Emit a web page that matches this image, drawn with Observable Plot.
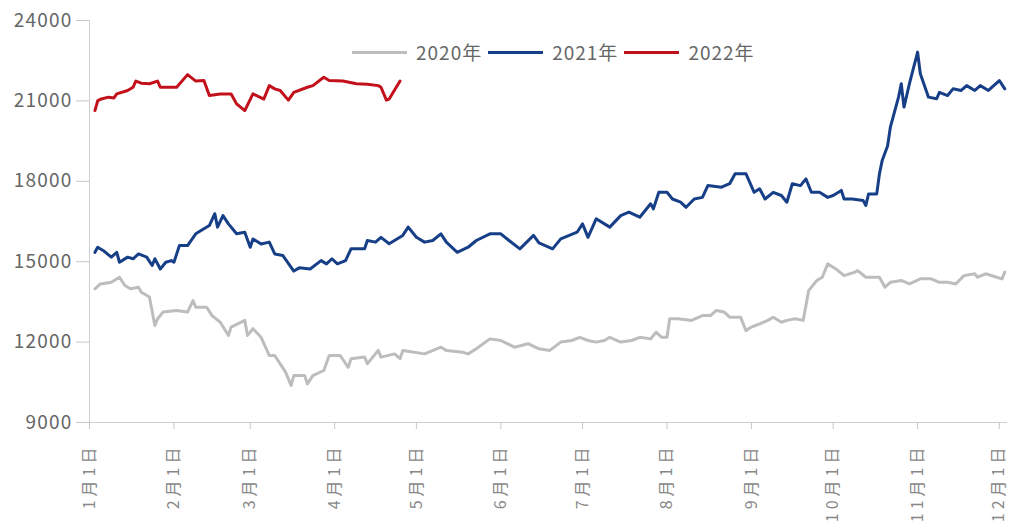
<!DOCTYPE html>
<html><head><meta charset="utf-8">
<script src="https://cdn.jsdelivr.net/npm/d3@7"></script>
<script src="https://cdn.jsdelivr.net/npm/@observablehq/plot@0.6"></script>
<style>
body{margin:0;background:#fff;font-family:"Noto Sans CJK SC",sans-serif;}
#wrap{position:relative;width:1014px;height:522px;}
#legend{position:absolute;left:352px;top:39px;display:flex;align-items:center;font-size:19px;color:#666;letter-spacing:1px;line-height:26px}
.item{display:flex;align-items:center;margin-right:6px}
.swatch{width:55px;height:3px;margin-right:9px}
#wrap svg [aria-label="x-axis tick label"] text{letter-spacing:4px}
#wrap svg [aria-label="y-axis tick label"] text{letter-spacing:1.2px}
</style></head><body><div id="wrap"><div id="legend"></div></div>
<script>
const years = ["2020年", "2021年", "2022年"];
const colors = ["#bdbdbd", "#173f87", "#c3111c"];
const yTicks = [9000, 12000, 15000, 18000, 21000, 24000];
const tickDays = ["01-01","02-01","03-01","04-01","05-01","06-01","07-01","08-01","09-01","10-01","11-01","12-01"];
const tickLabels = ["1月1日","2月1日","3月1日","4月1日","5月1日","6月1日","7月1日","8月1日","9月1日","10月1日","11月1日","12月1日"];
const xDomainDays = ["01-01", "12-04"];

const dates2020 = ["01-03","01-05","01-09","01-12","01-14","01-16","01-19","01-20","01-23","01-25","01-26","01-28","02-02","02-06","02-08","02-09","02-13","02-15","02-18","02-21","02-22","02-27","02-28","03-02","03-05","03-08","03-10","03-12","03-14","03-16","03-17","03-21","03-22","03-24","03-28","03-30","04-03","04-06","04-07","04-12","04-13","04-17","04-18","04-23","04-25","04-26","05-04","05-10","05-12","05-18","05-20","05-23","05-28","06-01","06-06","06-11","06-15","06-19","06-23","06-27","06-30","07-03","07-06","07-09","07-11","07-15","07-19","07-22","07-26","07-28","07-30","08-01","08-02","08-05","08-10","08-14","08-17","08-19","08-22","08-24","08-28","08-30","09-01","09-04","09-07","09-09","09-12","09-14","09-17","09-20","09-22","09-25","09-27","09-29","10-02","10-05","10-09","10-10","10-13","10-18","10-20","10-22","10-26","10-29","11-02","11-06","11-09","11-12","11-15","11-18","11-22","11-23","11-26","11-30","12-02","12-03"];
const values2020 = [13990,14170,14230,14420,14110,13990,14050,13860,13680,12620,12870,13120,13180,13120,13550,13300,13300,12990,12740,12250,12560,12810,12250,12500,12180,11500,11500,11190,10880,10380,10750,10750,10440,10750,10940,11500,11500,11060,11380,11440,11190,11690,11440,11560,11380,11690,11560,11810,11690,11620,11560,11750,12120,12060,11810,11940,11750,11690,12000,12060,12180,12060,12000,12060,12180,12000,12060,12180,12120,12370,12180,12180,12870,12870,12810,12990,12990,13180,13120,12930,12930,12430,12560,12680,12810,12930,12740,12810,12870,12810,13920,14300,14420,14920,14730,14480,14610,14670,14420,14420,14050,14230,14300,14170,14360,14360,14230,14230,14170,14480,14550,14420,14550,14420,14360,14610];

const dates2021 = ["01-03","01-04","01-06","01-09","01-11","01-12","01-15","01-17","01-19","01-22","01-24","01-25","01-27","01-29","01-31","02-01","02-03","02-06","02-09","02-12","02-14","02-16","02-17","02-19","02-21","02-24","02-27","03-01","03-02","03-05","03-08","03-10","03-13","03-17","03-19","03-23","03-27","03-29","03-31","04-02","04-05","04-07","04-12","04-13","04-16","04-18","04-21","04-26","04-28","05-01","05-04","05-07","05-10","05-12","05-16","05-20","05-23","05-28","06-01","06-04","06-08","06-13","06-15","06-20","06-23","06-29","07-01","07-03","07-06","07-11","07-15","07-18","07-22","07-26","07-27","07-29","08-01","08-03","08-06","08-08","08-11","08-14","08-16","08-21","08-24","08-26","08-30","09-02","09-04","09-06","09-09","09-12","09-14","09-16","09-19","09-21","09-23","09-26","09-29","10-01","10-04","10-05","10-08","10-12","10-13","10-14","10-17","10-18","10-19","10-21","10-22","10-25","10-26","10-27","10-29","11-01","11-02","11-05","11-08","11-09","11-12","11-14","11-17","11-19","11-22","11-24","11-27","12-01","12-03"];
const values2021 = [15350,15540,15420,15170,15350,14980,15170,15110,15290,15170,14860,15110,14730,14980,15040,14980,15600,15600,16040,16230,16350,16790,16290,16720,16410,16040,16100,15540,15850,15660,15730,15290,15230,14650,14770,14730,15040,14920,15110,14920,15040,15480,15480,15790,15730,15910,15670,15980,16290,15910,15730,15790,16040,15730,15350,15540,15790,16040,16040,15790,15480,15980,15700,15480,15850,16100,16410,15910,16600,16290,16720,16850,16660,17160,16970,17590,17590,17340,17220,17030,17340,17400,17840,17780,17910,18280,18280,17590,17720,17340,17590,17470,17220,17910,17840,18090,17590,17590,17400,17470,17660,17340,17340,17280,17100,17530,17530,18280,18780,19330,20020,21140,21640,20770,21640,22820,22010,21140,21080,21320,21200,21450,21390,21570,21390,21570,21390,21760,21450];

const dates2022 = ["01-03","01-04","01-05","01-08","01-10","01-11","01-15","01-17","01-18","01-20","01-23","01-26","01-27","02-02","02-06","02-09","02-12","02-14","02-18","02-22","02-24","02-27","03-02","03-06","03-08","03-10","03-12","03-15","03-17","03-22","03-24","03-28","03-30","04-04","04-09","04-13","04-17","04-18","04-20","04-21","04-25"];
const values2022 = [20640,21000,21060,21140,21110,21260,21390,21510,21740,21660,21640,21740,21510,21510,21980,21740,21760,21200,21260,21260,20890,20640,21260,21070,21570,21450,21390,21030,21320,21510,21570,21880,21760,21740,21640,21620,21570,21510,21030,21070,21740];

const parse = d3.utcParse("%Y-%m-%d");
const toDate = md => parse("2021-" + md);
const series = (year, ds, vs) => ds.map((d, i) => ({year, date: toDate(d), value: vs[i]}));
const data = [
  ...series(years[0], dates2020, values2020),
  ...series(years[1], dates2021, values2021),
  ...series(years[2], dates2022, values2022)
];
const tickDates = tickDays.map(toDate);
const labelMap = new Map(tickDates.map((d, i) => [+d, tickLabels[i]]));
const xDomain = xDomainDays.map(toDate);

const chart = Plot.plot({
  width: 1014, height: 522,
  marginLeft: 89, marginRight: 7, marginTop: 20, marginBottom: 100,
  style: {fontFamily: '"Noto Sans CJK SC", sans-serif', background: "#fff"},
  x: {type: "utc", domain: xDomain},
  y: {domain: [yTicks[0], yTicks[yTicks.length - 1]]},
  color: {domain: years, range: colors},
  marks: [
    Plot.ruleY([yTicks[0]], {stroke: "#d0d0d0"}),
    Plot.ruleX([xDomain[0]], {stroke: "#d0d0d0"}),
    Plot.axisY({ticks: yTicks, tickSize: 13, tickPadding: 4, fontSize: 19, stroke: "#c8c8c8", fill: "#666", tickFormat: d => String(d), label: null}),
    Plot.axisX({ticks: tickDates, tickFormat: d => labelMap.get(+d), tickRotate: -90, tickSize: 7, tickPadding: 14, fontSize: 16, stroke: "#c8c8c8", fill: "#888", label: null}),
    Plot.line(data, {x: "date", y: "value", stroke: "year", z: "year", strokeWidth: 3, strokeLinejoin: "round"})
  ]
});
document.getElementById("wrap").appendChild(chart);

const legend = document.getElementById("legend");
years.forEach((y, i) => {
  const item = document.createElement("div");
  item.className = "item";
  const sw = document.createElement("span");
  sw.className = "swatch";
  sw.style.background = colors[i];
  const t = document.createElement("span");
  t.textContent = y;
  item.appendChild(sw); item.appendChild(t);
  legend.appendChild(item);
});
</script></body></html>
